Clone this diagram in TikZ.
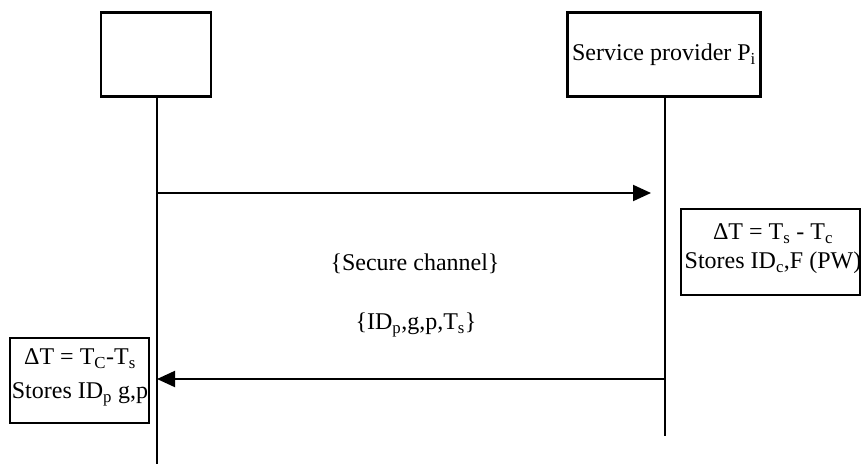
\documentclass[tikz,border=0pt]{standalone}
\usepackage{fontspec}
\setmainfont{Liberation Serif}
\usetikzlibrary{arrows.meta}
\tikzset{
  actor/.style={draw, line width=2.5pt, minimum width=110pt, minimum height=84pt, inner sep=0pt},
  notebox/.style={draw, line width=2pt, inner sep=0pt},
  notetext/.style={align=center, inner sep=0pt},
  life/.style={line width=2pt},
  msg/.style={line width=2pt, -{Triangle[length=18pt,width=16pt]}},
  lbl/.style={font=\fontsize{24}{28}\selectfont}
}
\begin{document}
\begin{tikzpicture}[x=1pt,y=-1pt]
\useasboundingbox (0,0) rectangle (862,464);
\node[actor] (A) at (156,54.5) {};
\node[actor, minimum width=193pt, font=\fontsize{24}{28}\selectfont] (P) at (664,54.5) {Service provider P\textsubscript{i}};
\coordinate (Aend) at (157,464);
\coordinate (Pend) at (665,436);
\draw[life] (A.south -| Aend) -- (Aend);
\draw[life] (P.south -| Pend) -- (Pend);
\coordinate (m1s) at (157,193);
\coordinate (m1e) at (651,193);
\coordinate (m2s) at (665,379);
\coordinate (m2e) at (157,379);
\draw[msg] (m1s) -- (m1e);
\draw[msg] (m2s) -- (m2e);
\node[notebox, minimum width=179pt, minimum height=86pt] (N1) at (770.5,252) {};
\node[notetext, font=\fontsize{24}{29}\selectfont] (N1t) at (773,249) {ΔT = T\textsubscript{s} - T\textsubscript{c}\\Stores ID\textsubscript{c},F (PW)};
\node[notebox, minimum width=139pt, minimum height=85pt] (N2) at (79.5,380.5) {};
\node[notetext, font=\fontsize{24}{34}\selectfont] (N2t) at (80,377) {ΔT = T\textsubscript{C}-T\textsubscript{s}\\Stores ID\textsubscript{p} g,p};
\node[lbl] (S) at (415,264) {\{Secure channel\}};
\node[lbl] (D) at (416,325) {\{ID\textsubscript{p},g,p,T\textsubscript{s}\}};
\end{tikzpicture}
\end{document}
